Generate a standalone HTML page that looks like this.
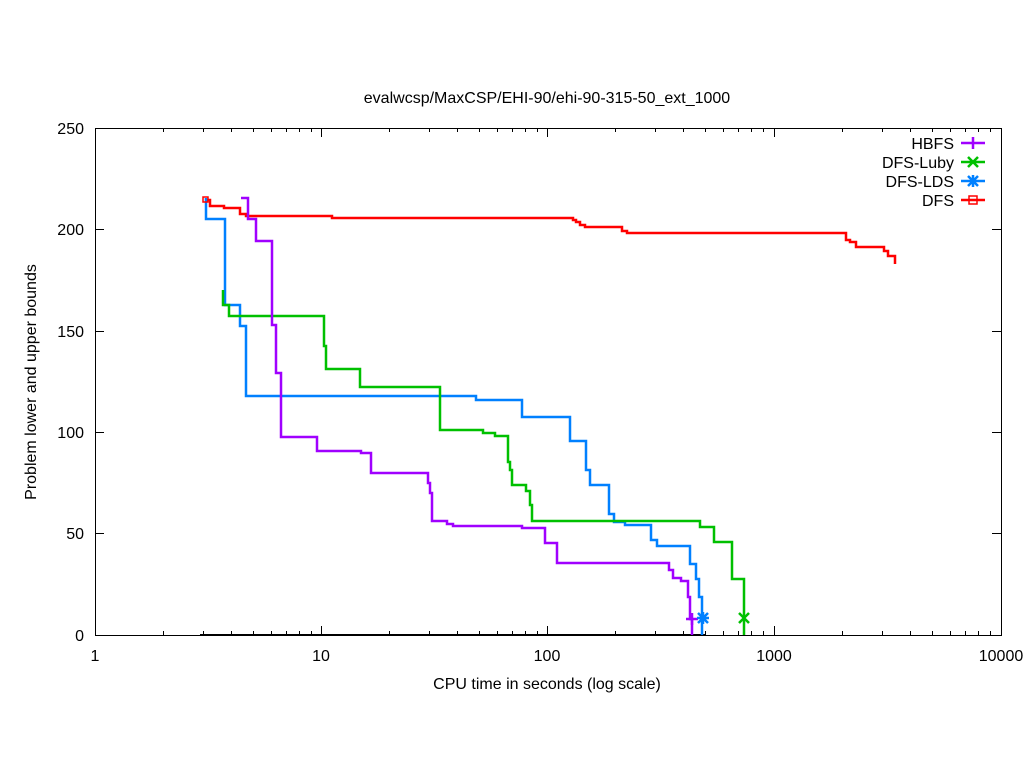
<!DOCTYPE html>
<html><head><meta charset="utf-8"><style>body{margin:0;background:#fff}svg{display:block}text{font-family:"Liberation Sans",sans-serif;font-size:16px;fill:#000}</style></head><body>
<svg width="1024" height="768" xmlns="http://www.w3.org/2000/svg">
<rect width="1024" height="768" fill="#fff"/>
<text x="547" y="103" text-anchor="middle">evalwcsp/MaxCSP/EHI-90/ehi-90-315-50_ext_1000</text>
<g stroke="#000" stroke-width="1" fill="none">
<rect x="95.5" y="128.5" width="906" height="507"/>
<path d="M95,229.5h9M1001,229.5h-9M95,331.5h9M1001,331.5h-9M95,432.5h9M1001,432.5h-9M95,533.5h9M1001,533.5h-9"/>
<path d="M321.5,635v-9M321.5,128v9M547.5,635v-9M547.5,128v9M774.5,635v-9M774.5,128v9"/>
<path d="M163.5,635v-4M203.5,635v-4M231.5,635v-4M253.5,635v-4M271.5,635v-4M286.5,635v-4M299.5,635v-4M311.5,635v-4M389.5,635v-4M429.5,635v-4M457.5,635v-4M479.5,635v-4M497.5,635v-4M512.5,635v-4M525.5,635v-4M537.5,635v-4M615.5,635v-4M655.5,635v-4M683.5,635v-4M705.5,635v-4M723.5,635v-4M738.5,635v-4M751.5,635v-4M763.5,635v-4M842.5,635v-4M882.5,635v-4M910.5,635v-4M932.5,635v-4M950.5,635v-4M965.5,635v-4M978.5,635v-4M990.5,635v-4"/>
<path d="M163.5,128v4M203.5,128v4M231.5,128v4M253.5,128v4M271.5,128v4M286.5,128v4M299.5,128v4M311.5,128v4M389.5,128v4M429.5,128v4M457.5,128v4M479.5,128v4M497.5,128v4M512.5,128v4M525.5,128v4M537.5,128v4M615.5,128v4M655.5,128v4M683.5,128v4M705.5,128v4M723.5,128v4M738.5,128v4M751.5,128v4M763.5,128v4M842.5,128v4M882.5,128v4M910.5,128v4M932.5,128v4M950.5,128v4M965.5,128v4M978.5,128v4M990.5,128v4"/>
</g>
<g text-anchor="end"><text x="84" y="134">250</text><text x="84" y="235">200</text><text x="84" y="337">150</text><text x="84" y="438">100</text><text x="84" y="539">50</text><text x="84" y="641">0</text></g>
<g text-anchor="middle"><text x="95" y="661">1</text><text x="321" y="661">10</text><text x="547" y="661">100</text><text x="774" y="661">1000</text><text x="1001" y="661">10000</text></g>
<text x="547" y="689" text-anchor="middle">CPU time in seconds (log scale)</text>
<text transform="translate(36,382) rotate(-90)" text-anchor="middle">Problem lower and upper bounds</text>
<path d="M200,635H705" stroke="#000" stroke-width="2"/>
<g fill="none" stroke-width="2.5">
<path stroke="#ff0000" d="M205,200H210V206H224V208H240V214H246V216H332V218H573V220H576V222H580V225H585V227H622V231H627V233H846V240H850V242H856V247H884V251H888V256H895V264"/>
<path stroke="#0080ff" d="M206,198V219H225V305H240V326H246V396H476V400H522V417H570V441H586V470H590V485H609V514H614V522H625V525H651V540H657V546H690V564H696V579H699V597H702V635"/>
<path stroke="#00c000" d="M223,290V305H229V316H324V346H326V369H360V387H440V430H483V433H495V436H508V462H510V470H512V485H526V491H530V505H532V521H700V527H714V542H732V579H744V635"/>
<path stroke="#a000ff" d="M241,198H248V219H256V241H272V325H276V373H281V437H317V451H361V453H371V473H428V483H430V493H432V521H447V524H453V526H522V528H545V543H557V563H669V570H673V578H681V581H688V597H690V619H692V635"/>
<path stroke="#a000ff" d="M686,619h12M692,613v12"/>
<path stroke="#00c000" d="M739,613l10,10M749,613l-10,10"/>
<path stroke="#0080ff" d="M697,618h12M703,612v12M698,613l10,10M708,613l-10,10"/>
<rect x="203" y="197" width="5" height="5" stroke="#ff0000" stroke-width="1.5"/>
</g>
<g text-anchor="end"><text x="954" y="149">HBFS</text><text x="954" y="168">DFS-Luby</text><text x="954" y="187">DFS-LDS</text><text x="954" y="206">DFS</text></g>
<g fill="none" stroke-width="2.5">
<path stroke="#a000ff" d="M961,143H985M973,137v12"/>
<path stroke="#00c000" d="M961,162H985M968,157l10,10M978,157l-10,10"/>
<path stroke="#0080ff" d="M961,181H985M973,175v12M968,176l10,10M978,176l-10,10"/>
<path stroke="#ff0000" d="M961,200H985"/><rect x="969" y="196" width="8" height="8" stroke="#ff0000" stroke-width="1.5"/>
</g>
</svg>
</body></html>
